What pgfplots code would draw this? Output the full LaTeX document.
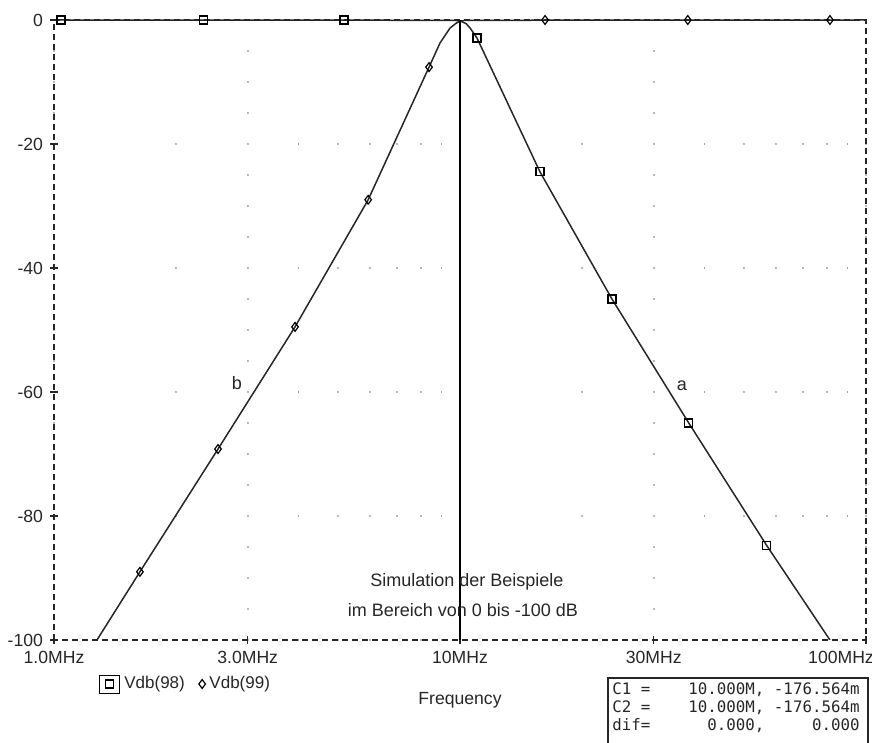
\documentclass[border=0pt]{standalone}
\usepackage{pgfplots}
\pgfplotsset{compat=1.18}
\usepackage{fontspec}
\setmainfont{Liberation Sans}
\newfontfamily\monofont{DejaVu Sans Mono}
\begin{document}
\begin{tikzpicture}
\path[use as bounding box] (-27pt,-51.5pt) rectangle (409pt,320pt);
\begin{axis}[
  scale only axis, width=406pt, height=310pt,
  xmode=log, xmin=1, xmax=100, ymin=-100, ymax=0,
  clip mode=individual,
  /pgf/number format/assume math mode=true,
  xtick={1,3,10,30,100},
  xticklabels={1.0MHz,3.0MHz,10MHz,30MHz,\hspace*{-25pt}100MHz},
  minor xtick={2,4,5,6,7,8,9,20,40,50,60,70,80,90},
  minor tick length=0pt,
  ytick={-100,-80,-60,-40,-20,0},
  yticklabels={-100,-80,-60,-40,-20,0},
  xtick pos=bottom, ytick pos=left,
  major tick length=4pt, tick align=center,
  tick style={black!85, line width=0.6pt},
  tick label style={font=\fontsize{8.8}{10}\selectfont, text=black!85},
  axis line style={black!85, line width=0.75pt, dash pattern=on 3pt off 2pt},
  xmajorgrids=true, xminorgrids=true, ymajorgrids=false,
  major grid style={black!55, line width=0.9pt, line cap=round, dash pattern=on 0.01pt off 15.49pt},
  minor grid style={black!55, line width=0.9pt, line cap=round, dash pattern=on 0.01pt off 61.99pt},
  xlabel={Frequency},
  xlabel style={at={(axis description cs:0.5,-0.097)}, anchor=center, font=\fontsize{8.8}{10}\selectfont, text=black!85},
  legend columns=2,
  legend style={at={(axis description cs:0.048,-0.071)}, anchor=west, draw=none, fill=none,
    font=\fontsize{8.5}{10}\selectfont, text=black!85,
    /tikz/every even column/.append style={column sep=5pt}},
]
% curve a (Vdb(98)) line
\addplot[black!85, line width=0.75pt, forget plot] coordinates {
 (1,0) (9.7,-0.05) (10,-0.18) (10.09,-0.25) (10.36,-0.6) (10.59,-1.3) (11.01,-2.9)
 (15.74,-24.5) (23.67,-45.0) (36.6,-65.0) (57.0,-84.8) (81.5,-100)
};
% curve b (Vdb(99)) line
\addplot[black!85, line width=0.75pt, forget plot] coordinates {
 (1.276,-100) (1.628,-89.0) (2.535,-69.2) (3.924,-49.5) (5.94,-29.0) (8.39,-7.6)
 (8.93,-3.7) (9.45,-1.3) (9.77,-0.55) (10,-0.18) (10.3,-0.05) (100,0)
};
% cursor line
\addplot[black, line width=0.6pt, forget plot] coordinates {(10,0) (10,-100)};
% markers
\addplot[only marks, mark=square, mark size=2pt, mark options={solid, fill=white, draw=black, line width=0.6pt},
  legend image code/.code={\draw[black, line width=0.5pt] (-1pt,-4.5pt) rectangle (9pt,4.5pt);
    \draw[black, line width=0.6pt] (2pt,-2pt) rectangle (6pt,2pt);}]
 coordinates {(1.04,0) (2.33,0) (5.18,0) (11.01,-2.9) (15.74,-24.5) (23.67,-45.0) (36.6,-65.0) (57.0,-84.8)};
\addlegendentry{Vdb(98)}
\addplot[only marks, mark=diamond, mark size=2.2pt, mark options={solid, fill=white, draw=black, line width=0.6pt}]
 coordinates {(1.628,-89.0) (2.535,-69.2) (3.924,-49.5) (5.94,-29.0) (8.39,-7.6) (16.2,0) (36.4,0) (81.5,0)};
\addlegendentry{Vdb(99)}
% annotations
\node[font=\fontsize{9}{10}\selectfont, text=black!85] at (axis cs:35.2,-59) {a};
\node[font=\fontsize{9}{10}\selectfont, text=black!85] at (axis cs:2.82,-58.5) {b};
\node[font=\fontsize{9}{10}\selectfont, text=black!85] at (axis cs:10.4,-90.6) {Simulation der Beispiele};
\node[font=\fontsize{9}{10}\selectfont, text=black!85] at (axis cs:10.17,-95.2) {im Bereich von 0 bis -100 dB};
\end{axis}
% cursor box
\draw[black!85, line width=0.6pt] (277pt,-60pt) -- (277pt,-19pt) -- (407pt,-19pt) -- (407pt,-60pt);
\begin{scope}[every node/.style={font=\monofont\fontsize{7.9}{9}\selectfont, text=black!85, inner sep=0pt, anchor=east}]
\node at (403pt,-25pt) {C1~=~~~~10.000M,~-176.564m};
\node at (403pt,-34pt) {C2~=~~~~10.000M,~-176.564m};
\node at (403pt,-43pt) {dif=~~~~~~0.000,~~~~~0.000};
\end{scope}
\end{tikzpicture}
\end{document}
